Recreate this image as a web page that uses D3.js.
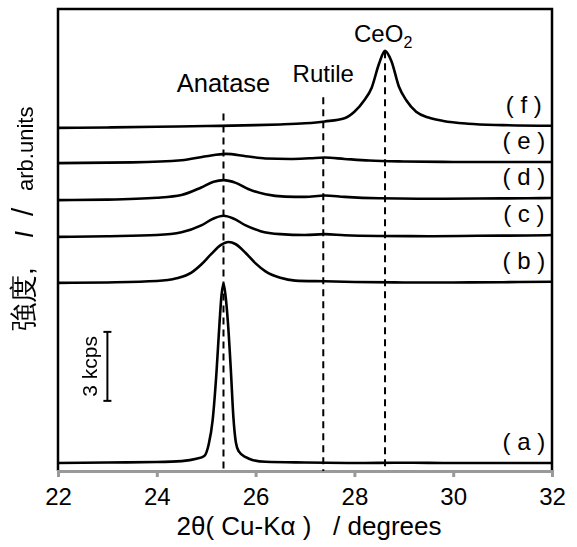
<!DOCTYPE html>
<html><head><meta charset="utf-8">
<script src="https://cdn.jsdelivr.net/npm/d3@7"></script>
<style>
body{margin:0;background:#fff;}
svg{display:block;}
text{font-family:"Liberation Sans",Arial,sans-serif;fill:#000;}
</style></head>
<body><svg id="c" width="577" height="547"></svg>
<script>
// ---- data ----
const xTicks = [22, 24, 26, 28, 30, 32];
const sampleLabels = ["( a )", "( b )", "( c )", "( d )", "( e )", "( f )"];
// vertical stacking offsets of each pattern (kcps)
const offsets = [0, 7.83, 9.83, 11.43, 13.04, 14.57];
// pattern intensities (2θ, kcps above own baseline)
const patternA = [[22,0],[23,0.02],[24,0.04],[24.5,0.08],[24.8,0.18],[24.96,0.3],[25.05,0.8],[25.13,1.85],[25.21,4.0],[25.27,6.1],[25.31,7.3],[25.35,7.8],[25.39,7.3],[25.44,6.1],[25.5,4.0],[25.55,2.0],[25.6,0.9],[25.66,0.5],[25.8,0.25],[25.95,0.12],[26.2,0.05],[27,0.02],[28,0],[29,0.01],[30,0],[31,0],[32,0]];
const patternB = [[22,0],[23,0.02],[24,0.08],[24.4,0.2],[24.7,0.45],[24.9,0.8],[25.1,1.25],[25.3,1.65],[25.45,1.78],[25.6,1.68],[25.8,1.3],[26.0,0.85],[26.2,0.5],[26.5,0.22],[26.8,0.1],[27.4,0.07],[28,0.04],[29,0.02],[30,0.02],[31,0.03],[32,0.05]];
const patternC = [[22,0],[23,0.03],[24,0.08],[24.5,0.2],[24.9,0.5],[25.15,0.8],[25.35,0.92],[25.55,0.8],[25.8,0.5],[26.1,0.25],[26.5,0.12],[27,0.08],[27.4,0.12],[27.8,0.07],[28.5,0.04],[29.5,0.03],[30.5,0.05],[31.5,0.06],[32,0.08]];
const patternD = [[22,0],[23,0.02],[24,0.1],[24.5,0.22],[24.9,0.55],[25.15,0.8],[25.35,0.87],[25.6,0.75],[25.85,0.48],[26.2,0.25],[26.6,0.15],[27,0.14],[27.4,0.2],[27.8,0.14],[28.5,0.08],[29.5,0.06],[30.5,0.07],[31.5,0.08],[32,0.09]];
const patternE = [[22,0],[23.5,0.03],[24.5,0.12],[25,0.3],[25.4,0.4],[25.8,0.3],[26.2,0.2],[26.7,0.18],[27.1,0.21],[27.4,0.24],[27.8,0.18],[28.3,0.11],[29,0.07],[30,0.05],[31,0.05],[32,0.05]];
const patternF = [[22,0],[23,0.02],[24,0.05],[25,0.08],[26,0.12],[26.5,0.15],[27,0.2],[27.4,0.28],[27.8,0.42],[28,0.7],[28.2,1.2],[28.35,1.75],[28.5,2.8],[28.62,3.35],[28.75,2.9],[28.9,1.8],[29.05,1.2],[29.25,0.7],[29.5,0.45],[29.8,0.3],[30.3,0.18],[31,0.12],[32,0.09]];
const patterns = [patternA, patternB, patternC, patternD, patternE, patternF];
// reference phase positions (2θ) and top of their marker lines (kcps)
const phaseNames = ["Anatase", "Rutile", "CeO"];
const phasePos = [25.35, 27.37, 28.62];
const phaseTop = [15.2, 15.9, 17.9];
// scale bar: 3 kcps
const scaleBarX = 23.0, scaleBarFrom = 2.7, scaleBarSize = 3;

// ---- layout ----
const svg = d3.select("#c");
const m = {l:58, t:9, r:25, b:76};
const W = 577 - m.l - m.r, H = 547 - m.t - m.b;
const g = svg.append("g").attr("transform", `translate(${m.l},${m.t})`);
const x = d3.scaleLinear().domain([22, 32]).range([0, W]);
const y = d3.scaleLinear().domain([-0.35, 19.74]).range([H, 0]);

// frame (left, top, right)
g.append("path").attr("d", `M0,${H} V0 H${W} V${H}`).attr("fill","none").attr("stroke","#000").attr("stroke-width",2.5);

// bottom axis (gray)
const ax = g.append("g").attr("transform", `translate(0,${H})`)
  .call(d3.axisBottom(x).tickValues(xTicks).tickSize(6).tickPadding(11).tickFormat(d3.format("d")));
ax.select(".domain").attr("stroke","#999").attr("stroke-width",3);
ax.selectAll(".tick line").attr("stroke","#999").attr("stroke-width",3);
ax.selectAll(".tick text").attr("font-size",24).attr("font-family",'"Liberation Sans",Arial,sans-serif').attr("fill","#000");

// dashed phase lines
g.selectAll(".ph").data(phasePos).join("line")
  .attr("x1", d=>x(d)).attr("x2", d=>x(d))
  .attr("y1", (d,i)=>y(phaseTop[i])).attr("y2", H)
  .attr("stroke","#000").attr("stroke-width",2).attr("stroke-dasharray","7,5");

// patterns
const line = d3.line().x(d=>x(d[0])).curve(d3.curveMonotoneX);
patterns.forEach((p, i) => {
  g.append("path").datum(p)
    .attr("d", line.y(d=>y(d[1] + offsets[i])))
    .attr("fill","none").attr("stroke","#000").attr("stroke-width",2.6).attr("stroke-linejoin","round");
  const last = p[p.length-1][1] + offsets[i];
  g.append("text").attr("x", x(31.43)).attr("y", y(last) - 13)
    .attr("text-anchor","middle").attr("font-size",24).style("white-space","pre").text(sampleLabels[i]);
});

// phase labels
g.append("text").attr("x", x(phasePos[0])).attr("y", 83).attr("text-anchor","middle").attr("font-size",25.5).text(phaseNames[0]);
g.append("text").attr("x", x(phasePos[1])).attr("y", 73).attr("text-anchor","middle").attr("font-size",24).text(phaseNames[1]);
const ce = g.append("text").attr("x", x(phasePos[2]) - 31).attr("y", 33).attr("font-size",24);
ce.append("tspan").text(phaseNames[2]);
ce.append("tspan").attr("font-size",16).attr("dy",6).text("2");

// scale bar
const sb = g.append("g");
const sx = x(scaleBarX);
sb.append("line").attr("x1",sx).attr("x2",sx).attr("y1",y(scaleBarFrom)).attr("y2",y(scaleBarFrom+scaleBarSize)).attr("stroke","#000").attr("stroke-width",2);
[scaleBarFrom, scaleBarFrom+scaleBarSize].forEach(v=>{
  sb.append("line").attr("x1",sx-4).attr("x2",sx+4).attr("y1",y(v)).attr("y2",y(v)).attr("stroke","#000").attr("stroke-width",2);
});
sb.append("text").attr("transform",`translate(${sx-10},${(y(scaleBarFrom)+y(scaleBarFrom+scaleBarSize))/2}) rotate(-90)`)
  .style("filter","grayscale(1)")
  .attr("text-anchor","middle").attr("font-size",21).text(scaleBarSize + " kcps");

// x title
svg.append("text").attr("x", 309).attr("y", 535).attr("text-anchor","middle").attr("font-size",26)
  .style("white-space","pre").text("2θ( Cu-Kα )   / degrees");

// y title
const yl = svg.append("g").attr("transform","translate(33,0)").style("filter","grayscale(1)");
function rot(yy){ return `translate(0,${yy}) rotate(-90)`; }
yl.append("text").attr("transform", rot(331)).attr("font-size",28).attr("fill","#000").attr("font-family",'"Noto Sans CJK JP",sans-serif').text("強度,");
yl.append("text").attr("transform", rot(238)).attr("font-size",25).attr("fill","#000").attr("font-style","italic").attr("font-family",'"Liberation Serif","Times New Roman",serif').text("I");
yl.append("text").attr("transform", rot(216)).attr("font-size",30).attr("fill","#000").text("/");
yl.append("text").attr("transform", rot(191)).attr("font-size",22).attr("fill","#000").text("arb.units");
</script></body></html>
